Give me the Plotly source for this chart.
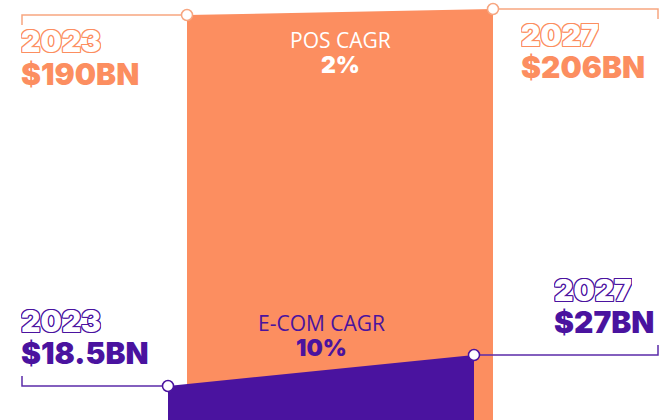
import plotly.graph_objects as go

# Market size (US$ billions) for point-of-sale and e-commerce, 2023 vs 2027
years = ["2023", "2027"]
pos_values = [190, 206]
ecom_values = [18.5, 27]
pos_labels = ["$190BN", "$206BN"]
ecom_labels = ["$18.5BN", "$27BN"]
pos_cagr = "2%"
ecom_cagr = "10%"

W, H = 671, 420
ORANGE = "#FC8E60"
ORANGE_LINE = "#F7A680"
PURPLE = "#4A139F"
PURPLE_LINE = "#5B2BA9"
DISPLAY_FONT = "Inter"
BODY_FONT = "Open Sans"

# horizontal placement of each band (x axis runs 0..W)
pos_x = [187, 493]
ecom_x = [168, 474]
guide_left, guide_right = 22, 658


def axis_range(values, px_top):
    """Build a y range so that values land at the given pixel heights."""
    v0, v1 = values
    p0, p1 = px_top
    s = (v1 - v0) / (p0 - p1)
    return [v0 - (H - p0) * s, v1 + p1 * s], s


pos_range, pos_s = axis_range(pos_values, (15, 9))
ecom_range, ecom_s = axis_range(ecom_values, (386, 355))

fig = go.Figure()

# POS band
fig.add_trace(go.Scatter(
    x=[pos_x[0], pos_x[1], pos_x[1], pos_x[0], pos_x[0]],
    y=[pos_values[0], pos_values[1], pos_range[0], pos_range[0], pos_values[0]],
    fill="toself", fillcolor=ORANGE, mode="lines", line=dict(width=0),
    hoverinfo="skip", yaxis="y"))
# E-commerce band
fig.add_trace(go.Scatter(
    x=[ecom_x[0], ecom_x[1], ecom_x[1], ecom_x[0], ecom_x[0]],
    y=[ecom_values[0], ecom_values[1], ecom_range[0], ecom_range[0], ecom_values[0]],
    fill="toself", fillcolor=PURPLE, mode="lines", line=dict(width=0),
    hoverinfo="skip", yaxis="y2"))

tick = 10
# guide lines to the labels
fig.add_trace(go.Scatter(
    x=[guide_left, guide_left, pos_x[0]],
    y=[pos_values[0] - tick * pos_s, pos_values[0], pos_values[0]],
    mode="lines", line=dict(color=ORANGE_LINE, width=1.5), yaxis="y", hoverinfo="skip"))
fig.add_trace(go.Scatter(
    x=[pos_x[1], guide_right, guide_right],
    y=[pos_values[1], pos_values[1], pos_values[1] - tick * pos_s],
    mode="lines", line=dict(color=ORANGE_LINE, width=1.5), yaxis="y", hoverinfo="skip"))
fig.add_trace(go.Scatter(
    x=[guide_left, guide_left, ecom_x[0]],
    y=[ecom_values[0] + tick * ecom_s, ecom_values[0], ecom_values[0]],
    mode="lines", line=dict(color=PURPLE_LINE, width=1.5), yaxis="y2", hoverinfo="skip"))
fig.add_trace(go.Scatter(
    x=[ecom_x[1], guide_right, guide_right],
    y=[ecom_values[1], ecom_values[1], ecom_values[1] + tick * ecom_s],
    mode="lines", line=dict(color=PURPLE_LINE, width=1.5), yaxis="y2", hoverinfo="skip"))

# endpoint markers
fig.add_trace(go.Scatter(
    x=pos_x, y=pos_values, mode="markers", yaxis="y", hoverinfo="skip",
    marker=dict(size=11, color="white", line=dict(color=ORANGE_LINE, width=1.5))))
fig.add_trace(go.Scatter(
    x=ecom_x, y=ecom_values, mode="markers", yaxis="y2", hoverinfo="skip",
    marker=dict(size=11, color="white", line=dict(color=PURPLE, width=1.5))))


def outline(c):
    offs = [(1, 0), (-1, 0), (0, 1), (0, -1), (1, 1), (-1, -1), (1, -1), (-1, 1)]
    return ", ".join(f"{dx}px {dy}px 0 {c}" for dx, dy in offs)


def py(px):
    return 1 - px / H


anns = []


def label(text, x, ypx, color, size, font, weight, anchor="left", shadow=None, box_h=None):
    f = dict(family=font, size=size, color=color, weight=weight)
    if shadow:
        f["shadow"] = shadow
    ann = dict(text=text, x=x, y=py(ypx), xref="x", yref="paper",
               xanchor=anchor, yanchor="middle", showarrow=False, font=f,
               borderpad=0)
    if box_h:
        ann["height"] = box_h
        ann["valign"] = "middle"
    anns.append(ann)


BIG = 30
BOX = 31
# POS labels
label(years[0], 20, 40, "white", BIG, DISPLAY_FONT, 900, shadow=outline(ORANGE), box_h=BOX)
label(pos_labels[0], 20, 73, ORANGE, BIG, DISPLAY_FONT, 900, box_h=BOX)
label(years[1], 520, 34, "white", BIG, DISPLAY_FONT, 900, shadow=outline(ORANGE), box_h=BOX)
label(pos_labels[1], 520, 66, ORANGE, BIG, DISPLAY_FONT, 900, box_h=BOX)
# E-commerce labels
label(years[0], 20, 320, "white", BIG, DISPLAY_FONT, 900, shadow=outline(PURPLE), box_h=BOX)
label(ecom_labels[0], 20, 352, PURPLE, BIG, DISPLAY_FONT, 900, box_h=BOX)
label(years[1], 553, 289, "white", BIG, DISPLAY_FONT, 900, shadow=outline(PURPLE), box_h=BOX)
label(ecom_labels[1], 553, 321, PURPLE, BIG, DISPLAY_FONT, 900, box_h=BOX)
# CAGR captions
mid_pos = sum(pos_x) / 2
mid_ecom = sum(ecom_x) / 2
label("POS CAGR", mid_pos, 40, "white", 21, BODY_FONT, 400, anchor="center")
label(pos_cagr, mid_pos, 65, "white", 23, DISPLAY_FONT, 900, anchor="center")
label("E-COM CAGR", mid_ecom, 323, PURPLE, 21, BODY_FONT, 400, anchor="center")
label(ecom_cagr, mid_ecom, 348, PURPLE, 23, DISPLAY_FONT, 900, anchor="center")

fig.update_layout(
    width=W, height=H, margin=dict(l=0, r=0, t=0, b=0),
    paper_bgcolor="white", plot_bgcolor="white", showlegend=False,
    xaxis=dict(range=[0, W], visible=False, fixedrange=True),
    yaxis=dict(range=pos_range, visible=False, fixedrange=True),
    yaxis2=dict(range=ecom_range, visible=False, overlaying="y", fixedrange=True),
    annotations=anns,
)

fig.write_html("out.html", config={"displayModeBar": False})
